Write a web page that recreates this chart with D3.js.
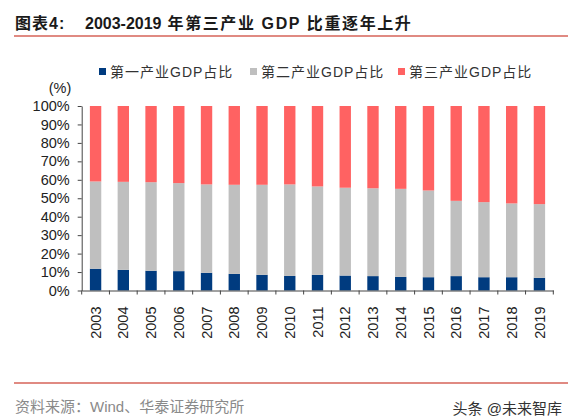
<!DOCTYPE html>
<html><head><meta charset="utf-8">
<script src="https://cdn.jsdelivr.net/npm/d3@7"></script>
<style>
body{margin:0;background:#fff;}
svg{display:block;}
</style></head>
<body>
<svg id="chart" width="574" height="419"></svg>
<script>
const years = ["2003","2004","2005","2006","2007","2008","2009","2010","2011","2012","2013","2014","2015","2016","2017","2018","2019"];
const primary   = [11.8,11.2,10.7,10.5,9.6,9.0,8.5,7.9,8.5,8.1,7.8,7.4,7.2,7.8,7.2,7.2,6.9];
const secondary = [47.3,47.7,48.0,47.7,47.9,48.3,48.8,49.6,47.9,47.6,47.6,47.7,47.0,40.8,40.7,40.0,39.9];
const tertiary  = [40.9,41.1,41.3,41.8,42.5,42.7,42.7,42.5,43.6,44.3,44.6,44.9,45.8,51.4,52.1,52.8,53.2];
const seriesNames = ["第一产业GDP占比","第二产业GDP占比","第三产业GDP占比"];
const seriesColors = ["#003b7f","#bfbfbf","#ff6262"];
const yTicks = [0,0.1,0.2,0.3,0.4,0.5,0.6,0.7,0.8,0.9,1.0];
const title1 = "图表4:";
const title2a = "2003-2019";
const title2b = " 年第三产业 GDP 比重逐年上升";
const source = "资料来源：Wind、华泰证券研究所";
const watermark = "头条 @未来智库";

const svg = d3.select("#chart");
const keys = ["p","s","t"];
const rows = years.map((y,i)=>({year:y,p:primary[i]/100,s:secondary[i]/100,t:tertiary[i]/100}));
const stack = d3.stack().keys(keys)(rows);

const x = d3.scaleBand().domain(years).range([81.7,553.3]).paddingInner(0.59).paddingOuter(0.295);
const y = d3.scaleLinear().domain([0,1]).range([290.5,106]);

const font = "'Liberation Sans', Arial, sans-serif";
const cjk = "'Liberation Sans', 'Noto Sans CJK SC', sans-serif";

// title
svg.append("text").attr("x",15).attr("y",29).attr("font-family",cjk).attr("font-weight","bold")
  .attr("font-size",16).attr("letter-spacing",1).attr("fill","#1a1a1a").text(title1);
const t2 = svg.append("text").attr("x",85).attr("y",29).attr("font-family",cjk).attr("font-weight","bold")
  .attr("font-size",16).attr("fill","#1a1a1a");
t2.append("tspan").text(title2a);
t2.append("tspan").attr("letter-spacing",1.6).text(title2b);
svg.append("line").attr("x1",14).attr("x2",568).attr("y1",36).attr("y2",36)
  .attr("stroke","#e08a82").attr("stroke-width",2);

// bars
svg.append("g").selectAll("g").data(stack).join("g")
  .attr("fill",(d,i)=>seriesColors[i])
  .selectAll("rect").data(d=>d).join("rect")
  .attr("x",d=>x(d.data.year)).attr("width",x.bandwidth())
  .attr("y",d=>y(d[1])).attr("height",d=>y(d[0])-y(d[1]));

// y axis
const yAxis = svg.append("g").attr("transform",`translate(${x.range()[0]},0)`)
  .call(d3.axisLeft(y).tickValues(yTicks).tickFormat(d3.format(".0%")).tickSize(4).tickSizeOuter(0).tickPadding(8));
yAxis.selectAll("text").attr("font-family",font).attr("font-size",14.5).attr("fill","#222");
yAxis.selectAll("line,path").attr("stroke","#444");

// x axis
const xAxis = svg.append("g").attr("transform",`translate(0,${y(0)})`)
  .call(d3.axisBottom(x).tickSize(0).tickSizeOuter(0).tickPadding(0));
xAxis.select("path").attr("stroke","#444");
xAxis.selectAll(".tick text").attr("font-family",font).attr("font-size",14.5).attr("fill","#222")
  .attr("transform","rotate(-90)").attr("text-anchor","end").attr("dx","-16").attr("dy","0.35em").attr("y",0).attr("x",0);
const gap = (x.step()-x.bandwidth())/2;
const bounds = years.map(d=>x(d)-gap).concat([x(years[years.length-1])+x.bandwidth()+gap]);
xAxis.selectAll(".btick").data(bounds).join("line").attr("class","btick")
  .attr("x1",d=>d).attr("x2",d=>d).attr("y1",0).attr("y2",4).attr("stroke","#444");

// unit label
svg.append("text").attr("x",60).attr("y",93).attr("text-anchor","middle").attr("font-family",font)
  .attr("font-size",14.5).attr("fill","#222").text("(%)");

// legend
const legX = [99,250,398];
const leg = svg.append("g").selectAll("g").data(seriesNames).join("g")
  .attr("transform",(d,i)=>`translate(${legX[i]},0)`);
leg.append("rect").attr("x",0).attr("y",68).attr("width",7).attr("height",7).attr("fill",(d,i)=>seriesColors[i]);
leg.append("text").attr("x",11).attr("y",77).attr("font-family",cjk).attr("font-size",14)
  .attr("letter-spacing",1).attr("fill","#333").text(d=>d);

// footer
svg.append("line").attr("x1",14).attr("x2",568).attr("y1",383).attr("y2",383)
  .attr("stroke","#e08a82").attr("stroke-width",2);
svg.append("text").attr("x",15).attr("y",412).attr("font-family",cjk).attr("font-size",15)
  .attr("fill","#8a8a8a").text(source);
svg.append("text").attr("x",562).attr("y",414).attr("text-anchor","end").attr("font-family",cjk).attr("font-size",15)
  .attr("fill","#333").text(watermark);
</script>
</body></html>
